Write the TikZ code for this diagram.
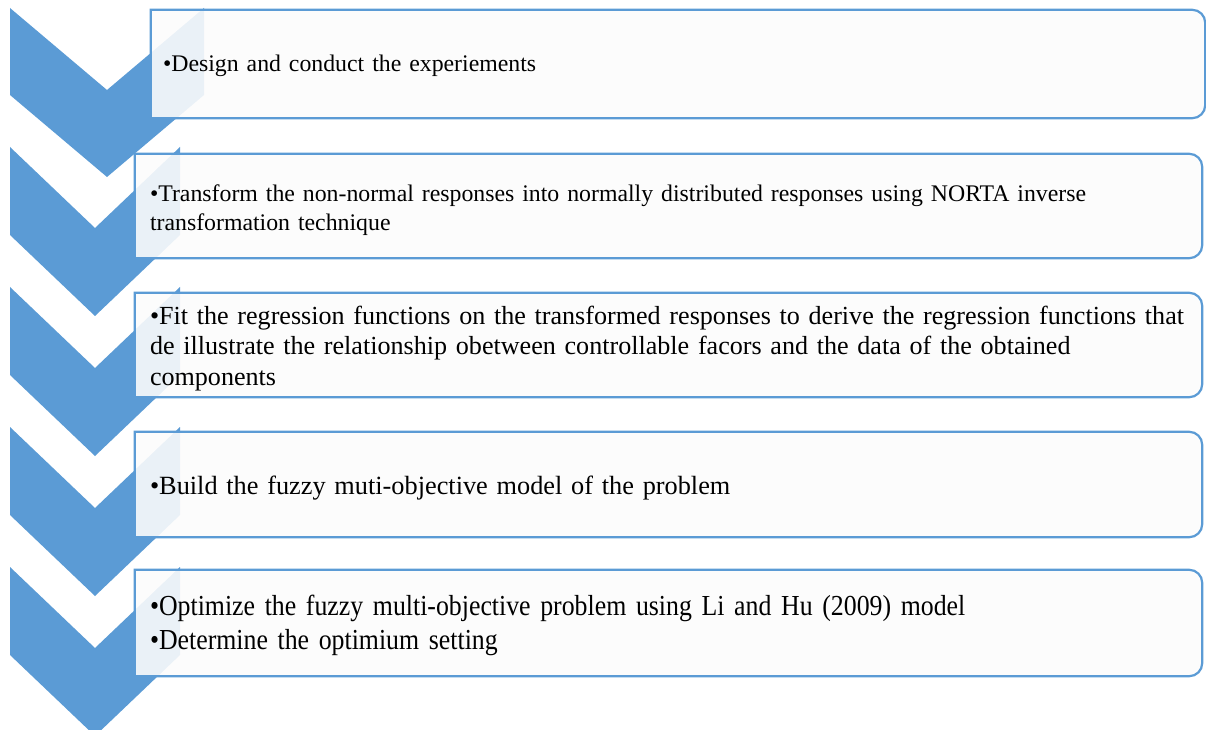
\documentclass[tikz,border=0pt]{standalone}
\usepackage{fontspec}
\setmainfont{Liberation Serif}
\newfontfamily\narrowserif[FakeStretch=0.89]{Liberation Serif}
\usetikzlibrary{positioning}

\definecolor{chevblue}{HTML}{5B9BD5}
\definecolor{boxfill}{HTML}{FCFCFC}

% bullet with the following lines hung under the text
\newlength\bulw
\newcommand\bul{\settowidth\bulw{•}\hangindent=\bulw\hangafter=1 •}

% frame of a step: square on the left, rounded on the right
\newcommand\stepframe[1]{%
  \draw[stepframe] (#1.south west) -- (#1.north west)
    -- ([xshift=-13pt]#1.north east) arc[start angle=90,end angle=0,radius=13pt]
    -- ([yshift=13pt]#1.south east) arc[start angle=0,end angle=-90,radius=13pt]
    -- cycle;}

\begin{document}
\begin{tikzpicture}[x=1pt,y=1pt,
  chev/.style={fill=chevblue,draw=none},
  stepbox/.style={inner sep=0,minimum height=104pt},
  stepframe/.style={draw=chevblue,line width=2.2pt,fill=boxfill,fill opacity=0.89},
  steptext/.style={inner sep=0,anchor=west,align=left,text width=1045pt,
    font=\fontsize{23.8}{29.5}\selectfont}]
\useasboundingbox (0,0) rectangle (1206,729);
\clip (0,0) rectangle (1206,729);

% chevrons
\fill[chev] (10,721) -- (107,639) -- (204,721) -- (204,634) -- (107,552) -- (10,634) -- cycle;
\fill[chev] (10,582) -- (95,501) -- (180,582) -- (180,494) -- (95,413) -- (10,494) -- cycle;
\fill[chev] (10,442) -- (95,361) -- (180,442) -- (180,354) -- (95,273) -- (10,354) -- cycle;
\fill[chev] (10,302) -- (95,221) -- (180,302) -- (180,214) -- (95,133) -- (10,214) -- cycle;
\fill[chev] (10,162) -- (95,81) -- (180,162) -- (180,74) -- (95,-7) -- (10,74) -- cycle;

% step boxes
\node[stepbox,minimum width=1054pt,minimum height=108pt] (b1) at (678,665) {};
\node[stepbox,minimum width=1067pt] (b2) at (668.5,523) {};
\node[stepbox,minimum width=1067pt] (b3) at (668.5,384) {};
\node[stepbox,minimum width=1067pt,minimum height=105pt] (b4) at (668.5,244.5) {};
\node[stepbox,minimum width=1067pt,minimum height=106pt] (b5) at (668.5,106) {};
\stepframe{b1}
\stepframe{b2}
\stepframe{b3}
\stepframe{b4}
\stepframe{b5}

% texts
\node[steptext] (t1) at ([xshift=12pt,yshift=-1.5pt]b1.west) {\bul Design and conduct the experiements};
\node[steptext] (t2) at ([xshift=15pt,yshift=-4pt]b2.west) {\bul Transform the non-normal responses into normally distributed responses using NORTA inverse\newline transformation technique};
\node[steptext,font=\fontsize{26.1}{30.5}\selectfont] (t3) at ([xshift=15pt,yshift=-3.5pt]b3.west) {\bul Fit the regression functions on the transformed responses to derive the regression functions that\newline de illustrate the relationship obetween controllable facors and the data of the obtained\newline components};
\node[steptext,font=\fontsize{26.3}{31}\selectfont] (t4) at ([xshift=15pt,yshift=-4pt]b4.west) {\bul Build the fuzzy muti-objective model of the problem};
\node[steptext,font=\narrowserif\fontsize{29}{34}\selectfont] (t5) at ([xshift=15pt,yshift=-2.5pt]b5.west) {\bul Optimize the fuzzy multi-objective problem using Li and Hu (2009) model\\\bul Determine the optimium setting};
\end{tikzpicture}
\end{document}
